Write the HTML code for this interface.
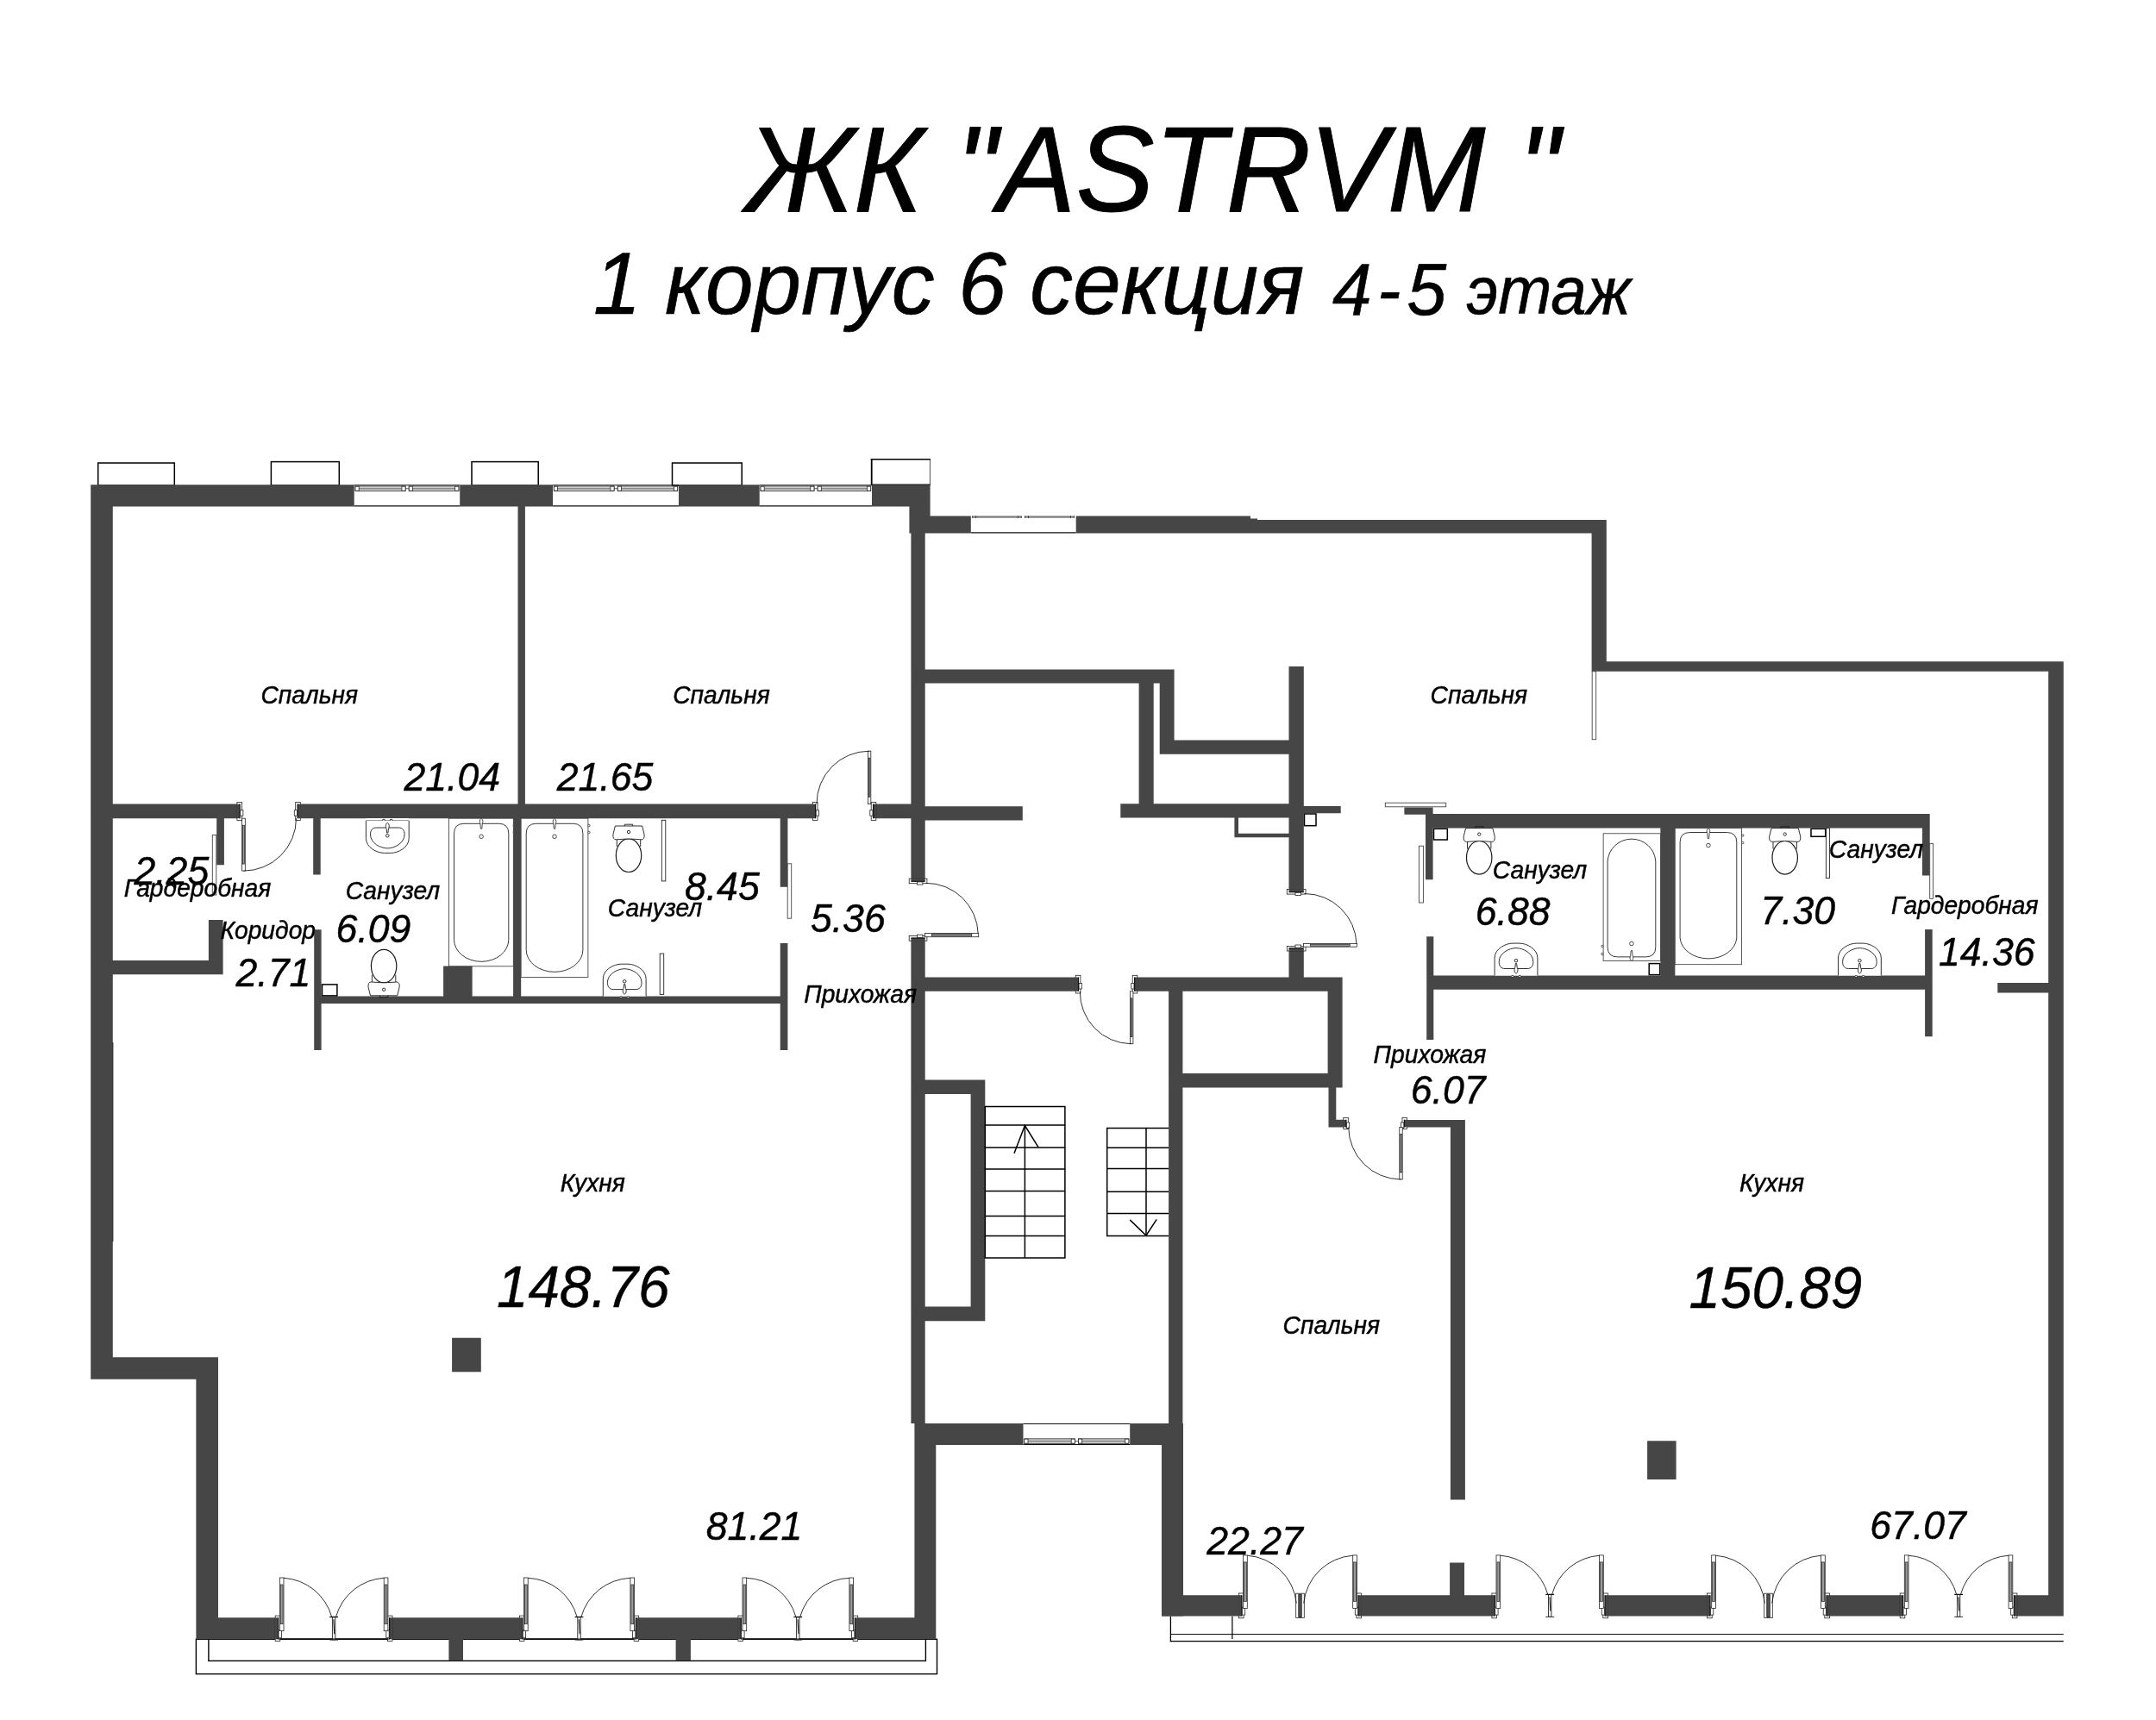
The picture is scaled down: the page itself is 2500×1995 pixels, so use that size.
<!DOCTYPE html>
<html><head><meta charset="utf-8"><title>ЖК ASTRVM</title>
<style>html,body{margin:0;padding:0;background:#fff}body{width:2500px;height:1995px;overflow:hidden;font-family:"Liberation Sans",sans-serif}svg{display:block}</style>
</head><body>
<svg width="2500" height="1995" viewBox="0 0 2500 1995">
<rect width="2500" height="1995" fill="#fff"/>
<rect x="113.7" y="537" width="88.6" height="26" fill="#fff" stroke="#000" stroke-width="1.5"/>
<rect x="314.4" y="535.6" width="78.9" height="27.4" fill="#fff" stroke="#000" stroke-width="1.5"/>
<rect x="547" y="535.6" width="77.2" height="27.4" fill="#fff" stroke="#000" stroke-width="1.5"/>
<rect x="779.5" y="537" width="80.7" height="26" fill="#fff" stroke="#000" stroke-width="1.5"/>
<rect x="1010.7" y="532.8" width="67.9" height="30.2" fill="#fff"/>
<line x1="1010.7" y1="532.1" x2="1010.7" y2="563" stroke="#000" stroke-width="1.8"/>
<line x1="1009.8" y1="532.8" x2="1078.9" y2="532.8" stroke="#000" stroke-width="1.5"/>
<line x1="1078.4" y1="532.8" x2="1078.4" y2="563" stroke="#222" stroke-width="0.8"/>
<line x1="1010.7" y1="562.3" x2="1078.6" y2="562.3" stroke="#000" stroke-width="1.6"/>
<rect x="227.4" y="1901.3" width="859.1" height="40.3" fill="#fff" stroke="#000" stroke-width="1.4"/>
<rect x="241.9" y="1901.3" width="831.5" height="25.1" fill="#fff" stroke="#000" stroke-width="1.4"/>
<line x1="1357.4" y1="1874.7" x2="1357.4" y2="1904.2" stroke="#000" stroke-width="1.3"/>
<line x1="1356.8" y1="1903.6" x2="2392.8" y2="1903.6" stroke="#000" stroke-width="1.4"/>
<line x1="1357.4" y1="1895.5" x2="2392.8" y2="1895.5" stroke="#111" stroke-width="1"/>
<line x1="1428.9" y1="1874.7" x2="1428.9" y2="1901" stroke="#000" stroke-width="1.2"/>
<path fill="#464646" d="M105.2 562.3H130.8V1599.8H105.2ZM105.2 562.3H410.7V587.4H105.2ZM533.2 562.3H641V587.4H533.2ZM787 562.3H880.7V587.4H787ZM1011 562.3H1078.6V587.4H1011ZM1054.4 587.4H1078.6V618.4H1054.4ZM105.2 1574.2H253V1599.8H105.2ZM227.4 1574.2H253V1901.3H227.4ZM227.4 1876.3H322.6V1901.3H227.4ZM451.6 1876.3H605.8V1901.3H451.6ZM737.3 1876.3H859.3V1901.3H737.3ZM991.3 1876.3H1085.3V1901.3H991.3ZM1060.4 1651H1085.3V1901.3H1060.4ZM1056.4 618.4H1072.7V1022.3H1056.4ZM1056.4 1088H1072.7V1651H1056.4ZM600.5 587.4H608.9V932.6H600.5ZM130.8 932.6H278.1V949.2H130.8ZM345.1 932.6H945.6V949.2H345.1ZM1012.6 932.6H1056.4V949.2H1012.6ZM251.2 949.2H259.9V1003.3H251.2ZM363.2 949.2H371.7V1014.4H363.2ZM241.9 1067.1H258.6V1130.3H241.9ZM130.8 1114H258.6V1130.3H130.8ZM364.2 1078.2H372.6V1218H364.2ZM372.6 1155.6H904.7V1164H372.6ZM595.3 949.2H604.1V1155.6H595.3ZM514.3 1120.7H547.4V1155.6H514.3ZM904.7 949.2H913.4V1028.7H904.7ZM904.7 1094H913.4V1218H904.7ZM524.1 1551.7H557.8V1591.2H524.1ZM520.4 1901.3H537V1926.3H520.4ZM783.6 1901.3H800.9V1926.3H783.6ZM1072.7 935.3H1185.8V951.4H1072.7ZM1072.7 776.5H1361.6V792.6H1072.7ZM1320.6 792.6H1337.7V932.3H1320.6ZM1344.7 776.5H1361.6V874.7H1344.7ZM1344.7 858.4H1494.5V874.7H1344.7ZM1299.3 932.3H1494.7V948.6H1299.3ZM1431.4 948.6H1436V971.2H1431.4ZM1431.4 966.7H1494.7V971.2H1431.4ZM1494.5 773H1511.8V1034.7H1494.5ZM1494.5 1099.8H1511.8V1133.5H1494.5ZM1072.7 1133.5H1250.5V1149.8H1072.7ZM1315.6 1133.5H1556.6V1149.8H1315.6ZM1355.1 1149.8H1371.4V1651H1355.1ZM1371.4 1244.9H1556.6V1261.5H1371.4ZM1539.6 1133.5H1556.6V1261.5H1539.6ZM1072.7 1252.4H1142.3V1269H1072.7ZM1125.6 1252.4H1142.3V1532.3H1125.6ZM1072.7 1515.6H1142.3V1532.3H1072.7ZM1060.4 1651H1186.5V1676H1060.4ZM1310.2 1651H1372V1676H1310.2ZM1347 1651H1372V1874.7H1347ZM1078.6 598.4H1125.8V618.4H1078.6ZM1247.7 598.4H1450V618.4H1247.7ZM1450 603H1862.8V618.4H1450ZM1449.5 601.6H1458V603.2H1449.5ZM1845.6 603H1862.8V778.8H1845.6ZM1862.8 767.3H2392.7V778.7H1862.8ZM2375.2 767.3H2392.8V1874.6H2375.2ZM1347 1850.2H1439.9V1874.6H1347ZM1575.1 1850.2H1733.3V1874.6H1575.1ZM1861 1850.2H1983V1874.6H1861ZM2118 1850.2H2206.6V1874.6H2118ZM2335.5 1850.2H2392.8V1874.6H2335.5ZM1681.1 1812.4H1698V1850.2H1681.1ZM1681.9 1298.9H1698.9V1739.6H1681.9ZM1628.4 1298.9H1698.9V1307.6H1628.4ZM1540.5 1261.5H1549.3V1307.4H1540.5ZM1540.5 1298.8H1560.9V1307.4H1540.5ZM1511.8 935.1H1554.7V943.3H1511.8ZM1628.4 936.5H1661.6V944.7H1628.4ZM1653 936.5H1661.6V1020.2H1653ZM1661.6 944.1H2237.7V960.6H1661.6ZM2229 944.1H2237.7V1015.6H2229ZM1925.6 960.6H1942.2V1131.5H1925.6ZM1654.2 1086.3H1662.3V1206H1654.2ZM1662.3 1131.5H2232.1V1147.8H1662.3ZM2232.1 1077.9H2240.7V1202.3H2232.1ZM2316.3 1140H2375.2V1151.6H2316.3ZM1910.1 1671.2H1943.6V1716.1H1910.1Z"/>
<line x1="130.9" y1="1209" x2="130.9" y2="1440" stroke="#111" stroke-width="0.9"/>
<line x1="410.7" y1="562.8" x2="533.2" y2="562.8" stroke="#111" stroke-width="1.1"/>
<line x1="410.7" y1="586.9" x2="533.2" y2="586.9" stroke="#111" stroke-width="1.1"/>
<rect x="412" y="563.9" width="58.1" height="5.6" fill="#cfcfcf" stroke="#333" stroke-width="0.8"/>
<line x1="416.5" y1="566.7" x2="465.6" y2="566.7" stroke="#8a8a8a" stroke-width="1.6"/>
<rect x="412" y="564.2" width="4.2" height="5" fill="#fff" stroke="#222" stroke-width="0.8"/>
<rect x="465.9" y="564.2" width="4.2" height="5" fill="#fff" stroke="#222" stroke-width="0.8"/>
<rect x="474.2" y="563.9" width="57.8" height="5.6" fill="#cfcfcf" stroke="#333" stroke-width="0.8"/>
<line x1="478.7" y1="566.7" x2="527.4" y2="566.7" stroke="#8a8a8a" stroke-width="1.6"/>
<rect x="474.2" y="564.2" width="4.2" height="5" fill="#fff" stroke="#222" stroke-width="0.8"/>
<rect x="527.7" y="564.2" width="4.2" height="5" fill="#fff" stroke="#222" stroke-width="0.8"/>
<line x1="470.1" y1="566.7" x2="474.2" y2="566.7" stroke="#333" stroke-width="0.8"/>
<line x1="641" y1="562.8" x2="787" y2="562.8" stroke="#111" stroke-width="1.1"/>
<line x1="641" y1="586.9" x2="787" y2="586.9" stroke="#111" stroke-width="1.1"/>
<rect x="642.3" y="563.9" width="69.8" height="5.6" fill="#cfcfcf" stroke="#333" stroke-width="0.8"/>
<line x1="646.8" y1="566.7" x2="707.6" y2="566.7" stroke="#8a8a8a" stroke-width="1.6"/>
<rect x="642.3" y="564.2" width="4.2" height="5" fill="#fff" stroke="#222" stroke-width="0.8"/>
<rect x="707.9" y="564.2" width="4.2" height="5" fill="#fff" stroke="#222" stroke-width="0.8"/>
<rect x="716.2" y="563.9" width="69.5" height="5.6" fill="#cfcfcf" stroke="#333" stroke-width="0.8"/>
<line x1="720.7" y1="566.7" x2="781.2" y2="566.7" stroke="#8a8a8a" stroke-width="1.6"/>
<rect x="716.2" y="564.2" width="4.2" height="5" fill="#fff" stroke="#222" stroke-width="0.8"/>
<rect x="781.5" y="564.2" width="4.2" height="5" fill="#fff" stroke="#222" stroke-width="0.8"/>
<line x1="712.1" y1="566.7" x2="716.2" y2="566.7" stroke="#333" stroke-width="0.8"/>
<line x1="880.7" y1="562.8" x2="1011" y2="562.8" stroke="#111" stroke-width="1.1"/>
<line x1="880.7" y1="586.9" x2="1011" y2="586.9" stroke="#111" stroke-width="1.1"/>
<rect x="882" y="563.9" width="62" height="5.6" fill="#cfcfcf" stroke="#333" stroke-width="0.8"/>
<line x1="886.5" y1="566.7" x2="939.5" y2="566.7" stroke="#8a8a8a" stroke-width="1.6"/>
<rect x="882" y="564.2" width="4.2" height="5" fill="#fff" stroke="#222" stroke-width="0.8"/>
<rect x="939.8" y="564.2" width="4.2" height="5" fill="#fff" stroke="#222" stroke-width="0.8"/>
<rect x="948.1" y="563.9" width="61.6" height="5.6" fill="#cfcfcf" stroke="#333" stroke-width="0.8"/>
<line x1="952.6" y1="566.7" x2="1005.2" y2="566.7" stroke="#8a8a8a" stroke-width="1.6"/>
<rect x="948.1" y="564.2" width="4.2" height="5" fill="#fff" stroke="#222" stroke-width="0.8"/>
<rect x="1005.5" y="564.2" width="4.2" height="5" fill="#fff" stroke="#222" stroke-width="0.8"/>
<line x1="944" y1="566.7" x2="948.1" y2="566.7" stroke="#333" stroke-width="0.8"/>
<line x1="1186.5" y1="1651.5" x2="1310.2" y2="1651.5" stroke="#111" stroke-width="1.1"/>
<line x1="1186.5" y1="1675.5" x2="1310.2" y2="1675.5" stroke="#111" stroke-width="1.1"/>
<rect x="1187.8" y="1668.8" width="58.6" height="5.6" fill="#cfcfcf" stroke="#333" stroke-width="0.8"/>
<line x1="1192.3" y1="1671.6" x2="1241.9" y2="1671.6" stroke="#8a8a8a" stroke-width="1.6"/>
<rect x="1187.8" y="1669.1" width="4.2" height="5" fill="#fff" stroke="#222" stroke-width="0.8"/>
<rect x="1242.2" y="1669.1" width="4.2" height="5" fill="#fff" stroke="#222" stroke-width="0.8"/>
<rect x="1250.5" y="1668.8" width="58.4" height="5.6" fill="#cfcfcf" stroke="#333" stroke-width="0.8"/>
<line x1="1255" y1="1671.6" x2="1304.4" y2="1671.6" stroke="#8a8a8a" stroke-width="1.6"/>
<rect x="1250.5" y="1669.1" width="4.2" height="5" fill="#fff" stroke="#222" stroke-width="0.8"/>
<rect x="1304.7" y="1669.1" width="4.2" height="5" fill="#fff" stroke="#222" stroke-width="0.8"/>
<line x1="1246.4" y1="1671.6" x2="1250.5" y2="1671.6" stroke="#333" stroke-width="0.8"/>
<line x1="1125.8" y1="617.8" x2="1247.7" y2="617.8" stroke="#111" stroke-width="1.2"/>
<rect x="1127.3" y="598.4" width="57.3" height="2.3" fill="#7d7d7d"/>
<rect x="1127.3" y="598.4" width="0.8" height="2.5" fill="#222"/>
<rect x="1131.3" y="598.4" width="0.8" height="2.5" fill="#222"/>
<rect x="1180" y="598.4" width="0.8" height="2.5" fill="#222"/>
<rect x="1183.8" y="598.4" width="0.8" height="2.5" fill="#222"/>
<rect x="1188.2" y="598.4" width="57.6" height="2.3" fill="#7d7d7d"/>
<rect x="1188.2" y="598.4" width="0.8" height="2.5" fill="#222"/>
<rect x="1192.2" y="598.4" width="0.8" height="2.5" fill="#222"/>
<rect x="1241.2" y="598.4" width="0.8" height="2.5" fill="#222"/>
<rect x="1245" y="598.4" width="0.8" height="2.5" fill="#222"/>
<rect x="274.9" y="930.4" width="5.6" height="21" fill="#fff" stroke="#222" stroke-width="0.8"/>
<rect x="274.7" y="932.6" width="3.4" height="16.6" fill="#464646"/>
<line x1="278.1" y1="932.6" x2="278.1" y2="949.2" stroke="#111" stroke-width="1.2"/>
<rect x="278.7" y="939.7" width="3.2" height="6.5" fill="#fff" stroke="#222" stroke-width="0.8"/>
<rect x="342.7" y="930.4" width="5.6" height="21" fill="#fff" stroke="#222" stroke-width="0.8"/>
<rect x="345.1" y="932.6" width="3.4" height="16.6" fill="#464646"/>
<line x1="345.1" y1="932.6" x2="345.1" y2="949.2" stroke="#111" stroke-width="1.2"/>
<rect x="341.3" y="939.7" width="3.2" height="6.5" fill="#fff" stroke="#222" stroke-width="0.8"/>
<rect x="280.6" y="949.2" width="3.7" height="60.9" fill="#fff" stroke="#222" stroke-width="0.8"/>
<rect x="281.5" y="957.2" width="1.9" height="44.9" fill="#9a9a9a" stroke="#222" stroke-width="0.7"/>
<path d="M282.5 1010.1 A61 61 0 0 0 343.5 949.2" fill="none" stroke="#1a1a1a" stroke-width="0.9"/>
<rect x="942.4" y="930.4" width="5.6" height="21" fill="#fff" stroke="#222" stroke-width="0.8"/>
<rect x="942.2" y="932.6" width="3.4" height="16.6" fill="#464646"/>
<line x1="945.6" y1="932.6" x2="945.6" y2="949.2" stroke="#111" stroke-width="1.2"/>
<rect x="946.2" y="939.7" width="3.2" height="6.5" fill="#fff" stroke="#222" stroke-width="0.8"/>
<rect x="1010.2" y="930.4" width="5.6" height="21" fill="#fff" stroke="#222" stroke-width="0.8"/>
<rect x="1012.6" y="932.6" width="3.4" height="16.6" fill="#464646"/>
<line x1="1012.6" y1="932.6" x2="1012.6" y2="949.2" stroke="#111" stroke-width="1.2"/>
<rect x="1008.8" y="939.7" width="3.2" height="6.5" fill="#fff" stroke="#222" stroke-width="0.8"/>
<rect x="1006.4" y="871.2" width="3.4" height="61.4" fill="#fff" stroke="#222" stroke-width="0.8"/>
<rect x="1007.3" y="879.2" width="1.6" height="45.4" fill="#9a9a9a" stroke="#222" stroke-width="0.7"/>
<path d="M1008 871.2 A61 61 0 0 0 947 932.6" fill="none" stroke="#1a1a1a" stroke-width="0.9"/>
<rect x="1054.2" y="1019.1" width="20.7" height="5.6" fill="#fff" stroke="#222" stroke-width="0.8"/>
<rect x="1056.4" y="1018.9" width="16.3" height="3.4" fill="#464646"/>
<line x1="1056.4" y1="1022.3" x2="1072.7" y2="1022.3" stroke="#111" stroke-width="1.2"/>
<rect x="1063.4" y="1022.9" width="6.5" height="3.2" fill="#fff" stroke="#222" stroke-width="0.8"/>
<rect x="1054.2" y="1085.6" width="20.7" height="5.6" fill="#fff" stroke="#222" stroke-width="0.8"/>
<rect x="1056.4" y="1088" width="16.3" height="3.4" fill="#464646"/>
<line x1="1056.4" y1="1088" x2="1072.7" y2="1088" stroke="#111" stroke-width="1.2"/>
<rect x="1063.4" y="1084.2" width="6.5" height="3.2" fill="#fff" stroke="#222" stroke-width="0.8"/>
<rect x="1072.4" y="1082.5" width="62.3" height="4.2" fill="#fff" stroke="#222" stroke-width="0.8"/>
<rect x="1080.4" y="1083.4" width="46.3" height="2.4" fill="#9a9a9a" stroke="#222" stroke-width="0.7"/>
<path d="M1073.5 1024.3 A60.5 60.5 0 0 1 1134.2 1083" fill="none" stroke="#1a1a1a" stroke-width="0.9"/>
<rect x="1247.3" y="1131.3" width="5.6" height="20.7" fill="#fff" stroke="#222" stroke-width="0.8"/>
<rect x="1247.1" y="1133.5" width="3.4" height="16.3" fill="#464646"/>
<line x1="1250.5" y1="1133.5" x2="1250.5" y2="1149.8" stroke="#111" stroke-width="1.2"/>
<rect x="1251.1" y="1140.5" width="3.2" height="6.5" fill="#fff" stroke="#222" stroke-width="0.8"/>
<rect x="1313.2" y="1131.3" width="5.6" height="20.7" fill="#fff" stroke="#222" stroke-width="0.8"/>
<rect x="1315.6" y="1133.5" width="3.4" height="16.3" fill="#464646"/>
<line x1="1315.6" y1="1133.5" x2="1315.6" y2="1149.8" stroke="#111" stroke-width="1.2"/>
<rect x="1311.8" y="1140.5" width="3.2" height="6.5" fill="#fff" stroke="#222" stroke-width="0.8"/>
<rect x="1310.5" y="1149.8" width="3.4" height="60.9" fill="#fff" stroke="#222" stroke-width="0.8"/>
<rect x="1311.4" y="1157.8" width="1.6" height="44.9" fill="#9a9a9a" stroke="#222" stroke-width="0.7"/>
<path d="M1252.3 1149.8 A60 60 0 0 0 1311.5 1210.7" fill="none" stroke="#1a1a1a" stroke-width="0.9"/>
<rect x="1492.3" y="1031.5" width="21.7" height="5.6" fill="#fff" stroke="#222" stroke-width="0.8"/>
<rect x="1494.5" y="1031.3" width="17.3" height="3.4" fill="#464646"/>
<line x1="1494.5" y1="1034.7" x2="1511.8" y2="1034.7" stroke="#111" stroke-width="1.2"/>
<rect x="1502" y="1035.3" width="6.5" height="3.2" fill="#fff" stroke="#222" stroke-width="0.8"/>
<rect x="1492.3" y="1097.4" width="21.7" height="5.6" fill="#fff" stroke="#222" stroke-width="0.8"/>
<rect x="1494.5" y="1099.8" width="17.3" height="3.4" fill="#464646"/>
<line x1="1494.5" y1="1099.8" x2="1511.8" y2="1099.8" stroke="#111" stroke-width="1.2"/>
<rect x="1502" y="1096" width="6.5" height="3.2" fill="#fff" stroke="#222" stroke-width="0.8"/>
<rect x="1511.6" y="1094.4" width="61.7" height="3.8" fill="#fff" stroke="#222" stroke-width="0.8"/>
<rect x="1519.6" y="1095.3" width="45.7" height="2" fill="#9a9a9a" stroke="#222" stroke-width="0.7"/>
<path d="M1512.5 1036.5 A60.5 60.5 0 0 1 1573 1095" fill="none" stroke="#1a1a1a" stroke-width="0.9"/>
<rect x="1557.7" y="1296.6" width="5.6" height="13" fill="#fff" stroke="#222" stroke-width="0.8"/>
<rect x="1557.5" y="1298.8" width="3.4" height="8.6" fill="#464646"/>
<line x1="1560.9" y1="1298.8" x2="1560.9" y2="1307.4" stroke="#111" stroke-width="1.2"/>
<rect x="1561.5" y="1301.9" width="3.2" height="6.5" fill="#fff" stroke="#222" stroke-width="0.8"/>
<rect x="1626" y="1296.6" width="5.6" height="13" fill="#fff" stroke="#222" stroke-width="0.8"/>
<rect x="1628.4" y="1298.8" width="3.4" height="8.6" fill="#464646"/>
<line x1="1628.4" y1="1298.8" x2="1628.4" y2="1307.4" stroke="#111" stroke-width="1.2"/>
<rect x="1624.6" y="1301.9" width="3.2" height="6.5" fill="#fff" stroke="#222" stroke-width="0.8"/>
<rect x="1622.8" y="1307.4" width="3.4" height="60.5" fill="#fff" stroke="#222" stroke-width="0.8"/>
<rect x="1623.7" y="1315.4" width="1.6" height="44.5" fill="#9a9a9a" stroke="#222" stroke-width="0.7"/>
<path d="M1563.7 1307.4 A60.8 60.8 0 0 0 1624.5 1367.9" fill="none" stroke="#1a1a1a" stroke-width="0.9"/>
<rect x="319.2" y="1874.1" width="5.6" height="29.4" fill="#fff" stroke="#222" stroke-width="0.8"/>
<rect x="319" y="1876.3" width="3.6" height="25" fill="#464646"/>
<line x1="322.6" y1="1876.3" x2="322.6" y2="1901.3" stroke="#111" stroke-width="1.2"/>
<rect x="323" y="1890.8" width="3.4" height="9" fill="#fff" stroke="#222" stroke-width="0.8"/>
<rect x="449.4" y="1874.1" width="5.6" height="29.4" fill="#fff" stroke="#222" stroke-width="0.8"/>
<rect x="451.6" y="1876.3" width="3.6" height="25" fill="#464646"/>
<line x1="451.6" y1="1876.3" x2="451.6" y2="1901.3" stroke="#111" stroke-width="1.2"/>
<rect x="447.8" y="1890.8" width="3.4" height="9" fill="#fff" stroke="#222" stroke-width="0.8"/>
<rect x="324.3" y="1830" width="4.7" height="61.7" fill="#fff" stroke="#222" stroke-width="0.8"/>
<rect x="325.2" y="1838" width="2.9" height="45.7" fill="#9a9a9a" stroke="#222" stroke-width="0.7"/>
<rect x="445.2" y="1830" width="4.7" height="61.7" fill="#fff" stroke="#222" stroke-width="0.8"/>
<rect x="446.1" y="1838" width="2.9" height="45.7" fill="#9a9a9a" stroke="#222" stroke-width="0.7"/>
<rect x="385.4" y="1875.7" width="3.4" height="26.2" fill="#fff" stroke="#222" stroke-width="0.9"/>
<line x1="386.9" y1="1878.3" x2="387.7" y2="1895.3" stroke="#111" stroke-width="1.1"/>
<line x1="382.2" y1="1875.5" x2="392" y2="1875.5" stroke="#111" stroke-width="1.3"/>
<line x1="382.2" y1="1902.1" x2="392" y2="1902.1" stroke="#444" stroke-width="1.1"/>
<path d="M329 1830.3 A61.7 61.7 0 0 1 384.7 1875.5" fill="none" stroke="#1a1a1a" stroke-width="0.9"/>
<path d="M445.2 1830.3 A61.7 61.7 0 0 0 389.5 1875.5" fill="none" stroke="#1a1a1a" stroke-width="0.9"/>
<line x1="322.6" y1="1901" x2="451.6" y2="1901" stroke="#111" stroke-width="1.2"/>
<rect x="602.4" y="1874.1" width="5.6" height="29.4" fill="#fff" stroke="#222" stroke-width="0.8"/>
<rect x="602.2" y="1876.3" width="3.6" height="25" fill="#464646"/>
<line x1="605.8" y1="1876.3" x2="605.8" y2="1901.3" stroke="#111" stroke-width="1.2"/>
<rect x="606.2" y="1890.8" width="3.4" height="9" fill="#fff" stroke="#222" stroke-width="0.8"/>
<rect x="735.1" y="1874.1" width="5.6" height="29.4" fill="#fff" stroke="#222" stroke-width="0.8"/>
<rect x="737.3" y="1876.3" width="3.6" height="25" fill="#464646"/>
<line x1="737.3" y1="1876.3" x2="737.3" y2="1901.3" stroke="#111" stroke-width="1.2"/>
<rect x="733.5" y="1890.8" width="3.4" height="9" fill="#fff" stroke="#222" stroke-width="0.8"/>
<rect x="607.5" y="1830" width="4.7" height="61.7" fill="#fff" stroke="#222" stroke-width="0.8"/>
<rect x="608.4" y="1838" width="2.9" height="45.7" fill="#9a9a9a" stroke="#222" stroke-width="0.7"/>
<rect x="730.9" y="1830" width="4.7" height="61.7" fill="#fff" stroke="#222" stroke-width="0.8"/>
<rect x="731.8" y="1838" width="2.9" height="45.7" fill="#9a9a9a" stroke="#222" stroke-width="0.7"/>
<rect x="669.8" y="1875.7" width="3.4" height="26.2" fill="#fff" stroke="#222" stroke-width="0.9"/>
<line x1="671.3" y1="1878.3" x2="672.1" y2="1895.3" stroke="#111" stroke-width="1.1"/>
<line x1="666.6" y1="1875.5" x2="676.4" y2="1875.5" stroke="#111" stroke-width="1.3"/>
<line x1="666.6" y1="1902.1" x2="676.4" y2="1902.1" stroke="#444" stroke-width="1.1"/>
<path d="M612.2 1830.3 A61.7 61.7 0 0 1 669.1 1875.5" fill="none" stroke="#1a1a1a" stroke-width="0.9"/>
<path d="M730.9 1830.3 A61.7 61.7 0 0 0 673.9 1875.5" fill="none" stroke="#1a1a1a" stroke-width="0.9"/>
<line x1="605.8" y1="1901" x2="737.3" y2="1901" stroke="#111" stroke-width="1.2"/>
<rect x="855.9" y="1874.1" width="5.6" height="29.4" fill="#fff" stroke="#222" stroke-width="0.8"/>
<rect x="855.7" y="1876.3" width="3.6" height="25" fill="#464646"/>
<line x1="859.3" y1="1876.3" x2="859.3" y2="1901.3" stroke="#111" stroke-width="1.2"/>
<rect x="859.7" y="1890.8" width="3.4" height="9" fill="#fff" stroke="#222" stroke-width="0.8"/>
<rect x="989.1" y="1874.1" width="5.6" height="29.4" fill="#fff" stroke="#222" stroke-width="0.8"/>
<rect x="991.3" y="1876.3" width="3.6" height="25" fill="#464646"/>
<line x1="991.3" y1="1876.3" x2="991.3" y2="1901.3" stroke="#111" stroke-width="1.2"/>
<rect x="987.5" y="1890.8" width="3.4" height="9" fill="#fff" stroke="#222" stroke-width="0.8"/>
<rect x="861" y="1830" width="4.7" height="61.7" fill="#fff" stroke="#222" stroke-width="0.8"/>
<rect x="861.9" y="1838" width="2.9" height="45.7" fill="#9a9a9a" stroke="#222" stroke-width="0.7"/>
<rect x="984.9" y="1830" width="4.7" height="61.7" fill="#fff" stroke="#222" stroke-width="0.8"/>
<rect x="985.8" y="1838" width="2.9" height="45.7" fill="#9a9a9a" stroke="#222" stroke-width="0.7"/>
<rect x="923.6" y="1875.7" width="3.4" height="26.2" fill="#fff" stroke="#222" stroke-width="0.9"/>
<line x1="925.1" y1="1878.3" x2="925.9" y2="1895.3" stroke="#111" stroke-width="1.1"/>
<line x1="920.4" y1="1875.5" x2="930.2" y2="1875.5" stroke="#111" stroke-width="1.3"/>
<line x1="920.4" y1="1902.1" x2="930.2" y2="1902.1" stroke="#444" stroke-width="1.1"/>
<path d="M865.7 1830.3 A61.7 61.7 0 0 1 922.9 1875.5" fill="none" stroke="#1a1a1a" stroke-width="0.9"/>
<path d="M984.9 1830.3 A61.7 61.7 0 0 0 927.7 1875.5" fill="none" stroke="#1a1a1a" stroke-width="0.9"/>
<line x1="859.3" y1="1901" x2="991.3" y2="1901" stroke="#111" stroke-width="1.2"/>
<rect x="1436.5" y="1848" width="5.6" height="28.8" fill="#fff" stroke="#222" stroke-width="0.8"/>
<rect x="1436.3" y="1850.2" width="3.6" height="24.4" fill="#464646"/>
<line x1="1439.9" y1="1850.2" x2="1439.9" y2="1874.6" stroke="#111" stroke-width="1.2"/>
<rect x="1440.3" y="1864.1" width="3.4" height="9" fill="#fff" stroke="#222" stroke-width="0.8"/>
<rect x="1572.9" y="1848" width="5.6" height="28.8" fill="#fff" stroke="#222" stroke-width="0.8"/>
<rect x="1575.1" y="1850.2" width="3.6" height="24.4" fill="#464646"/>
<line x1="1575.1" y1="1850.2" x2="1575.1" y2="1874.6" stroke="#111" stroke-width="1.2"/>
<rect x="1571.3" y="1864.1" width="3.4" height="9" fill="#fff" stroke="#222" stroke-width="0.8"/>
<rect x="1441.6" y="1803.9" width="4.7" height="61.7" fill="#fff" stroke="#222" stroke-width="0.8"/>
<rect x="1442.5" y="1811.9" width="2.9" height="45.7" fill="#9a9a9a" stroke="#222" stroke-width="0.7"/>
<rect x="1568.7" y="1803.9" width="4.7" height="61.7" fill="#fff" stroke="#222" stroke-width="0.8"/>
<rect x="1569.6" y="1811.9" width="2.9" height="45.7" fill="#9a9a9a" stroke="#222" stroke-width="0.7"/>
<rect x="1502.7" y="1848.2" width="9.6" height="28.4" fill="#fff" stroke="#222" stroke-width="0.8"/>
<rect x="1505.8" y="1849.2" width="3.4" height="26.4" fill="#555" stroke="#111" stroke-width="0.8"/>
<path d="M1446.3 1804.2 A61.7 61.7 0 0 1 1503.3 1859.6" fill="none" stroke="#1a1a1a" stroke-width="0.9"/>
<path d="M1568.7 1804.2 A61.7 61.7 0 0 0 1511.7 1859.6" fill="none" stroke="#1a1a1a" stroke-width="0.9"/>
<rect x="1729.9" y="1848" width="5.6" height="28.8" fill="#fff" stroke="#222" stroke-width="0.8"/>
<rect x="1729.7" y="1850.2" width="3.6" height="24.4" fill="#464646"/>
<line x1="1733.3" y1="1850.2" x2="1733.3" y2="1874.6" stroke="#111" stroke-width="1.2"/>
<rect x="1733.7" y="1864.1" width="3.4" height="9" fill="#fff" stroke="#222" stroke-width="0.8"/>
<rect x="1858.8" y="1848" width="5.6" height="28.8" fill="#fff" stroke="#222" stroke-width="0.8"/>
<rect x="1861" y="1850.2" width="3.6" height="24.4" fill="#464646"/>
<line x1="1861" y1="1850.2" x2="1861" y2="1874.6" stroke="#111" stroke-width="1.2"/>
<rect x="1857.2" y="1864.1" width="3.4" height="9" fill="#fff" stroke="#222" stroke-width="0.8"/>
<rect x="1735" y="1803.9" width="4.7" height="61.7" fill="#fff" stroke="#222" stroke-width="0.8"/>
<rect x="1735.9" y="1811.9" width="2.9" height="45.7" fill="#9a9a9a" stroke="#222" stroke-width="0.7"/>
<rect x="1854.6" y="1803.9" width="4.7" height="61.7" fill="#fff" stroke="#222" stroke-width="0.8"/>
<rect x="1855.5" y="1811.9" width="2.9" height="45.7" fill="#9a9a9a" stroke="#222" stroke-width="0.7"/>
<rect x="1795.5" y="1849.6" width="3.4" height="25.6" fill="#fff" stroke="#222" stroke-width="0.9"/>
<line x1="1797" y1="1852.2" x2="1797.8" y2="1868.6" stroke="#111" stroke-width="1.1"/>
<line x1="1792.2" y1="1849.4" x2="1802.1" y2="1849.4" stroke="#111" stroke-width="1.3"/>
<line x1="1792.2" y1="1875.4" x2="1802.1" y2="1875.4" stroke="#444" stroke-width="1.1"/>
<path d="M1739.7 1804.2 A61.7 61.7 0 0 1 1794.8 1849.4" fill="none" stroke="#1a1a1a" stroke-width="0.9"/>
<path d="M1854.6 1804.2 A61.7 61.7 0 0 0 1799.6 1849.4" fill="none" stroke="#1a1a1a" stroke-width="0.9"/>
<rect x="1979.6" y="1848" width="5.6" height="28.8" fill="#fff" stroke="#222" stroke-width="0.8"/>
<rect x="1979.4" y="1850.2" width="3.6" height="24.4" fill="#464646"/>
<line x1="1983" y1="1850.2" x2="1983" y2="1874.6" stroke="#111" stroke-width="1.2"/>
<rect x="1983.4" y="1864.1" width="3.4" height="9" fill="#fff" stroke="#222" stroke-width="0.8"/>
<rect x="2115.8" y="1848" width="5.6" height="28.8" fill="#fff" stroke="#222" stroke-width="0.8"/>
<rect x="2118" y="1850.2" width="3.6" height="24.4" fill="#464646"/>
<line x1="2118" y1="1850.2" x2="2118" y2="1874.6" stroke="#111" stroke-width="1.2"/>
<rect x="2114.2" y="1864.1" width="3.4" height="9" fill="#fff" stroke="#222" stroke-width="0.8"/>
<rect x="1984.7" y="1803.9" width="4.7" height="61.7" fill="#fff" stroke="#222" stroke-width="0.8"/>
<rect x="1985.6" y="1811.9" width="2.9" height="45.7" fill="#9a9a9a" stroke="#222" stroke-width="0.7"/>
<rect x="2111.6" y="1803.9" width="4.7" height="61.7" fill="#fff" stroke="#222" stroke-width="0.8"/>
<rect x="2112.5" y="1811.9" width="2.9" height="45.7" fill="#9a9a9a" stroke="#222" stroke-width="0.7"/>
<rect x="2045.7" y="1848.2" width="9.6" height="28.4" fill="#fff" stroke="#222" stroke-width="0.8"/>
<rect x="2048.8" y="1849.2" width="3.4" height="26.4" fill="#555" stroke="#111" stroke-width="0.8"/>
<path d="M1989.4 1804.2 A61.7 61.7 0 0 1 2046.3 1859.6" fill="none" stroke="#1a1a1a" stroke-width="0.9"/>
<path d="M2111.6 1804.2 A61.7 61.7 0 0 0 2054.7 1859.6" fill="none" stroke="#1a1a1a" stroke-width="0.9"/>
<rect x="2203.2" y="1848" width="5.6" height="28.8" fill="#fff" stroke="#222" stroke-width="0.8"/>
<rect x="2203" y="1850.2" width="3.6" height="24.4" fill="#464646"/>
<line x1="2206.6" y1="1850.2" x2="2206.6" y2="1874.6" stroke="#111" stroke-width="1.2"/>
<rect x="2207" y="1864.1" width="3.4" height="9" fill="#fff" stroke="#222" stroke-width="0.8"/>
<rect x="2333.3" y="1848" width="5.6" height="28.8" fill="#fff" stroke="#222" stroke-width="0.8"/>
<rect x="2335.5" y="1850.2" width="3.6" height="24.4" fill="#464646"/>
<line x1="2335.5" y1="1850.2" x2="2335.5" y2="1874.6" stroke="#111" stroke-width="1.2"/>
<rect x="2331.7" y="1864.1" width="3.4" height="9" fill="#fff" stroke="#222" stroke-width="0.8"/>
<rect x="2208.3" y="1803.9" width="4.7" height="61.7" fill="#fff" stroke="#222" stroke-width="0.8"/>
<rect x="2209.2" y="1811.9" width="2.9" height="45.7" fill="#9a9a9a" stroke="#222" stroke-width="0.7"/>
<rect x="2329.1" y="1803.9" width="4.7" height="61.7" fill="#fff" stroke="#222" stroke-width="0.8"/>
<rect x="2330" y="1811.9" width="2.9" height="45.7" fill="#9a9a9a" stroke="#222" stroke-width="0.7"/>
<rect x="2269.4" y="1849.6" width="3.4" height="25.6" fill="#fff" stroke="#222" stroke-width="0.9"/>
<line x1="2270.9" y1="1852.2" x2="2271.7" y2="1868.6" stroke="#111" stroke-width="1.1"/>
<line x1="2266.2" y1="1849.4" x2="2276" y2="1849.4" stroke="#111" stroke-width="1.3"/>
<line x1="2266.2" y1="1875.4" x2="2276" y2="1875.4" stroke="#444" stroke-width="1.1"/>
<path d="M2213 1804.2 A61.7 61.7 0 0 1 2268.7 1849.4" fill="none" stroke="#1a1a1a" stroke-width="0.9"/>
<path d="M2329.1 1804.2 A61.7 61.7 0 0 0 2273.5 1849.4" fill="none" stroke="#1a1a1a" stroke-width="0.9"/>
<rect x="246.3" y="968.5" width="4.5" height="69.5" fill="#fff" stroke="#444" stroke-width="0.9"/>
<rect x="913.2" y="1001.8" width="4.5" height="63.4" fill="#fff" stroke="#444" stroke-width="0.9"/>
<rect x="767.3" y="951.3" width="4.5" height="70.6" fill="#fff" stroke="#222" stroke-width="0.9"/>
<rect x="765.2" y="1106.1" width="4.5" height="47.3" fill="#fff" stroke="#222" stroke-width="0.9"/>
<rect x="1846.2" y="778.8" width="4.5" height="78.9" fill="#fff" stroke="#444" stroke-width="0.9"/>
<rect x="1645.4" y="981.2" width="5" height="65.8" fill="#fff" stroke="#444" stroke-width="0.9"/>
<rect x="2237.7" y="978.4" width="3.9" height="63.9" fill="#fff" stroke="#444" stroke-width="0.9"/>
<rect x="2117.4" y="960.6" width="4" height="58" fill="#fff" stroke="#222" stroke-width="0.9"/>
<rect x="1606.3" y="931.2" width="70.4" height="4.6" fill="#fff" stroke="#444" stroke-width="0.9"/>
<rect x="1512.5" y="944" width="13.5" height="13.7" fill="#fff" stroke="#000" stroke-width="1.5"/>
<rect x="1662.5" y="961.3" width="15.8" height="12.7" fill="#fff" stroke="#000" stroke-width="1.5"/>
<rect x="2100" y="961.3" width="16.7" height="9" fill="#fff" stroke="#000" stroke-width="1.5"/>
<rect x="1912.2" y="1117.6" width="12.6" height="13" fill="#fff" stroke="#000" stroke-width="1.5"/>
<rect x="373.5" y="1141.9" width="17.4" height="13" fill="#fff" stroke="#000" stroke-width="1.5"/>
<g stroke="#000" stroke-width="1.5" fill="none">
<rect x="1142.3" y="1283.5" width="92.6" height="175.5"/>
<line x1="1142.3" y1="1305" x2="1234.9" y2="1305"/>
<line x1="1142.3" y1="1331" x2="1234.9" y2="1331"/>
<line x1="1142.3" y1="1356" x2="1234.9" y2="1356"/>
<line x1="1142.3" y1="1381.5" x2="1234.9" y2="1381.5"/>
<line x1="1142.3" y1="1410.5" x2="1234.9" y2="1410.5"/>
<line x1="1142.3" y1="1433.5" x2="1234.9" y2="1433.5"/>
<line x1="1188.4" y1="1305" x2="1188.4" y2="1459"/>
<path d="M1176 1337.7 L1188.4 1305.5 L1204 1330.7"/>
<path d="M1355.1 1308.6 H1283.7 V1433.5 H1355.1"/>
<line x1="1283.7" y1="1331.2" x2="1355.1" y2="1331.2"/>
<line x1="1283.7" y1="1355.6" x2="1355.1" y2="1355.6"/>
<line x1="1283.7" y1="1382.3" x2="1355.1" y2="1382.3"/>
<line x1="1283.7" y1="1407.4" x2="1355.1" y2="1407.4"/>
<line x1="1329" y1="1308.6" x2="1329" y2="1433.5"/>
<path d="M1310.2 1414.9 L1329 1433 L1341.2 1414.4"/>
</g>
<defs>
<g id="sink" fill="#fff" stroke="#1a1a1a" stroke-width="0.9"><path d="M-24.9 0V-20.5C-24.9 -31 -12 -37.4 -4 -37.4H4C12 -37.4 24.9 -31 24.9 -20.5V0"/><path d="M-13 -8H13C17.5 -8 19.8 -11 19.8 -16C19.8 -26 8 -31.9 0 -31.9C-8 -31.9 -19.8 -26 -19.8 -16C-19.8 -11 -17.5 -8 -13 -8Z"/><path d="M0 -2.3C2.4 -3.8 2.4 -6.8 1.2 -9.3L0.6 -14H-0.6L-1.2 -9.3C-2.4 -6.8 -2.4 -3.8 0 -2.3Z"/><circle cx="0" cy="-17.3" r="1.8"/></g>
<g id="sinkdots" fill="#fff" stroke="#1a1a1a" stroke-width="0.8"><ellipse cx="-4.2" cy="1" rx="1.5" ry="1"/><ellipse cx="4.2" cy="1" rx="1.5" ry="1"/></g>
<g id="toilet" fill="#fff" stroke="#1a1a1a" stroke-width="0.9"><path d="M-13.7 -24V-15M13.7 -24V-15" fill="none"/><ellipse cx="0" cy="-34.2" rx="14.7" ry="19.3" stroke-width="1.2"/><path d="M-15.6 0L-18 -9.5Q-18.8 -15.8 -14.5 -15.8Q0 -14 14.5 -15.8Q18.8 -15.8 18 -9.5L15.6 0Z"/><circle cx="0" cy="-7" r="1.7"/><path d="M-4.7 0V1.8H4.7V0" fill="none"/></g>
</defs>
<rect x="424.4" y="949.2" width="49.9" height="3" fill="#fff"/>
<line x1="424.4" y1="952" x2="474.3" y2="952" stroke="#1a1a1a" stroke-width="0.9"/>
<use href="#sink" transform="translate(449.3 952) scale(1 -1)"/>
<path d="M443.8 952V950.4H446.2V952M452.4 952V950.4H454.8V952" fill="#fff" stroke="#1a1a1a" stroke-width="0.8"/>
<use href="#sink" transform="translate(724.2 1155.6)"/>
<use href="#sinkdots" transform="translate(724.2 1155.6)"/>
<use href="#sink" transform="translate(1758 1131.5)"/>
<use href="#sinkdots" transform="translate(1758 1131.5)"/>
<use href="#sink" transform="translate(2156.4 1131.5)"/>
<use href="#sinkdots" transform="translate(2156.4 1131.5)"/>
<use href="#toilet" transform="translate(445.1 1154.8)"/>
<use href="#toilet" transform="translate(729 958) scale(1 -1)"/>
<use href="#toilet" transform="translate(1715.2 960.6) scale(1 -1)"/>
<use href="#toilet" transform="translate(2069.7 960.6) scale(1 -1)"/>
<rect x="520.4" y="949.2" width="74.9" height="171.6" fill="#fff" stroke="#333" stroke-width="0.8"/>
<path d="M526.5 966.8 Q526.5 955.3 538 955.3 H578.3 Q589.8 955.3 589.8 966.8 V1089.8 A31.6 25.5 0 0 1 526.5 1089.8 Z" fill="#fff" stroke="#222" stroke-width="0.9"/>
<circle cx="558.1" cy="970.3" r="2.3" fill="#fff" stroke="#222" stroke-width="0.8"/>
<path d="M558.1 949.2 c2.2 1.5 2.2 4 1.2 6 l-0.5 6 h-1.4 l-0.5 -6 c-1 -2 -1 -4.5 1.2 -6z" fill="#fff" stroke="#222" stroke-width="0.8"/>
<rect x="604.1" y="949.2" width="77.8" height="184.3" fill="#fff" stroke="#333" stroke-width="0.8"/>
<path d="M610.2 966.8 Q610.2 955.3 621.7 955.3 H664.4 Q675.9 955.3 675.9 966.8 V1101.8 A32.8 25.5 0 0 1 610.2 1101.8 Z" fill="#fff" stroke="#222" stroke-width="0.9"/>
<circle cx="643" cy="970.3" r="2.3" fill="#fff" stroke="#222" stroke-width="0.8"/>
<path d="M643 949.2 c2.2 1.5 2.2 4 1.2 6 l-0.5 6 h-1.4 l-0.5 -6 c-1 -2 -1 -4.5 1.2 -6z" fill="#fff" stroke="#222" stroke-width="0.8"/>
<rect x="1859.1" y="966.8" width="66.5" height="147.8" fill="#fff" stroke="#333" stroke-width="0.8"/>
<path d="M1864.1 1098.4 Q1864.1 1109.9 1875.6 1109.9 H1908.3 Q1919.8 1109.9 1919.8 1098.4 V999 A27.9 27.5 0 0 0 1864.1 999 Z" fill="#fff" stroke="#222" stroke-width="0.9"/>
<circle cx="1891.9" cy="1094.5" r="2.3" fill="#fff" stroke="#222" stroke-width="0.8"/>
<path d="M1891.9 1114.6 c2.2 -1.5 2.2 -4 1.2 -6 l-0.5 -6 h-1.4 l-0.5 6 c-1 2 -1 4.5 1.2 6z" fill="#fff" stroke="#222" stroke-width="0.8"/>
<rect x="1942.2" y="960.6" width="77.4" height="158.1" fill="#fff" stroke="#333" stroke-width="0.8"/>
<path d="M1948.1 977 Q1948.1 965.5 1959.6 965.5 H2002.3 Q2013.8 965.5 2013.8 977 V1087.8 A32.9 25.5 0 0 1 1948.1 1087.8 Z" fill="#fff" stroke="#222" stroke-width="0.9"/>
<circle cx="1980.9" cy="980.5" r="2.3" fill="#fff" stroke="#222" stroke-width="0.8"/>
<path d="M1980.9 960.6 c2.2 1.5 2.2 4 1.2 6 l-0.5 6 h-1.4 l-0.5 -6 c-1 -2 -1 -4.5 1.2 -6z" fill="#fff" stroke="#222" stroke-width="0.8"/>
<circle cx="596.3" cy="957.5" r="1.3" fill="#ddd" stroke="#333" stroke-width="0.7"/>
<circle cx="596.3" cy="965.5" r="1.3" fill="#ddd" stroke="#333" stroke-width="0.7"/>
<circle cx="682.9" cy="957.5" r="1.3" fill="#ddd" stroke="#333" stroke-width="0.7"/>
<circle cx="682.9" cy="965.5" r="1.3" fill="#ddd" stroke="#333" stroke-width="0.7"/>
<circle cx="1858" cy="1097.5" r="1.3" fill="#ddd" stroke="#333" stroke-width="0.7"/>
<circle cx="1858" cy="1106.5" r="1.3" fill="#ddd" stroke="#333" stroke-width="0.7"/>
<circle cx="2020.7" cy="969" r="1.3" fill="#ddd" stroke="#333" stroke-width="0.7"/>
<circle cx="2020.7" cy="977.5" r="1.3" fill="#ddd" stroke="#333" stroke-width="0.7"/>
<rect x="595.3" y="949.2" width="8.8" height="206.4" fill="#464646"/>
<rect x="1925.6" y="960.6" width="16.6" height="170.9" fill="#464646"/>
<rect x="514.3" y="1120.7" width="33.1" height="34.9" fill="#464646"/>
<g font-family="'Liberation Sans', sans-serif" font-style="italic" fill="#000" stroke="#000" stroke-linejoin="round" opacity="0.999">
<text transform="translate(864.8 245.3) scale(1 1.03)" font-size="136.4" stroke-width="0.9">ЖК &quot;ASTRVM &quot;</text>
<text transform="translate(687.9 363.6) scale(1 1.03)" font-size="99.7" stroke-width="0.7">1 корпус 6 секция</text>
<text transform="translate(1545 364.5) scale(1 1.045)" font-size="82" stroke-width="0.6">4</text>
<text transform="translate(1597 364.5) scale(1 1.045)" font-size="82" stroke-width="0.6">-</text>
<text transform="translate(1631.5 364.5) scale(1 1.045)" font-size="82" stroke-width="0.6">5</text>
<text transform="translate(1700.5 363.6) scale(1 1.045)" font-size="74.5" stroke-width="0.6">этаж</text>
<text transform="translate(302.5 815.5) scale(1 1.06)" font-size="28.2" stroke-width="0.45">Спальня</text>
<text transform="translate(780.2 815.5) scale(1 1.06)" font-size="28.2" stroke-width="0.45">Спальня</text>
<text transform="translate(1658.6 815.5) scale(1 1.06)" font-size="28.2" stroke-width="0.45">Спальня</text>
<text transform="translate(1487.6 1546.9) scale(1 1.06)" font-size="28.2" stroke-width="0.45">Спальня</text>
<text transform="translate(649.8 1381.7) scale(1 1.06)" font-size="28.2" stroke-width="0.45">Кухня</text>
<text transform="translate(2016.9 1381.9) scale(1 1.06)" font-size="28.2" stroke-width="0.45">Кухня</text>
<text transform="translate(932.2 1162.8) scale(1 1.06)" font-size="28.2" stroke-width="0.45">Прихожая</text>
<text transform="translate(1592.6 1232.5) scale(1 1.06)" font-size="28.2" stroke-width="0.45">Прихожая</text>
<text transform="translate(400.7 1043) scale(1 1.06)" font-size="28.2" stroke-width="0.45">Санузел</text>
<text transform="translate(704.8 1062.5) scale(1 1.06)" font-size="28.2" stroke-width="0.45">Санузел</text>
<text transform="translate(1730.8 1018.7) scale(1 1.06)" font-size="28.2" stroke-width="0.45">Санузел</text>
<text transform="translate(2120.8 994.6) scale(1 1.06)" font-size="28.2" stroke-width="0.45">Санузел</text>
<text transform="translate(143.8 1039.6) scale(1 1.06)" font-size="28.2" stroke-width="0.45">Гардеробная</text>
<text transform="translate(2193.1 1059.7) scale(1 1.06)" font-size="28.2" stroke-width="0.45">Гардеробная</text>
<text transform="translate(255.4 1088.5) scale(1 1.06)" font-size="28.2" stroke-width="0.45">Коридор</text>
<text transform="translate(468.5 916.7) scale(1 1.055)" font-size="44.6" stroke-width="0.45">21.04</text>
<text transform="translate(645.7 916.7) scale(1 1.055)" font-size="44.6" stroke-width="0.45">21.65</text>
<text transform="translate(155.4 1025.5) scale(1 1.055)" font-size="44.6" stroke-width="0.45">2.25</text>
<text transform="translate(273.5 1143.8) scale(1 1.055)" font-size="44.6" stroke-width="0.45">2.71</text>
<text transform="translate(389.6 1093) scale(1 1.055)" font-size="44.6" stroke-width="0.45">6.09</text>
<text transform="translate(793.9 1044.4) scale(1 1.055)" font-size="44.6" stroke-width="0.45">8.45</text>
<text transform="translate(939.9 1081.4) scale(1 1.055)" font-size="44.6" stroke-width="0.45">5.36</text>
<text transform="translate(1710.7 1072.6) scale(1 1.055)" font-size="44.6" stroke-width="0.45">6.88</text>
<text transform="translate(2041.3 1071.8) scale(1 1.055)" font-size="44.6" stroke-width="0.45">7.30</text>
<text transform="translate(2248 1119.8) scale(1 1.055)" font-size="44.6" stroke-width="0.45">14.36</text>
<text transform="translate(1635.7 1279.7) scale(1 1.055)" font-size="44.6" stroke-width="0.45">6.07</text>
<text transform="translate(818.8 1785.8) scale(1 1.055)" font-size="44.6" stroke-width="0.45">81.21</text>
<text transform="translate(1399.3 1803.3) scale(1 1.055)" font-size="44.6" stroke-width="0.45">22.27</text>
<text transform="translate(2168.3 1785.2) scale(1 1.055)" font-size="44.6" stroke-width="0.45">67.07</text>
<text transform="translate(575.9 1516.2) scale(1 1.045)" font-size="65.6" stroke-width="0.45">148.76</text>
<text transform="translate(1958.6 1517) scale(1 1.045)" font-size="65.6" stroke-width="0.45">150.89</text>
</g>
</svg>
</body></html>
